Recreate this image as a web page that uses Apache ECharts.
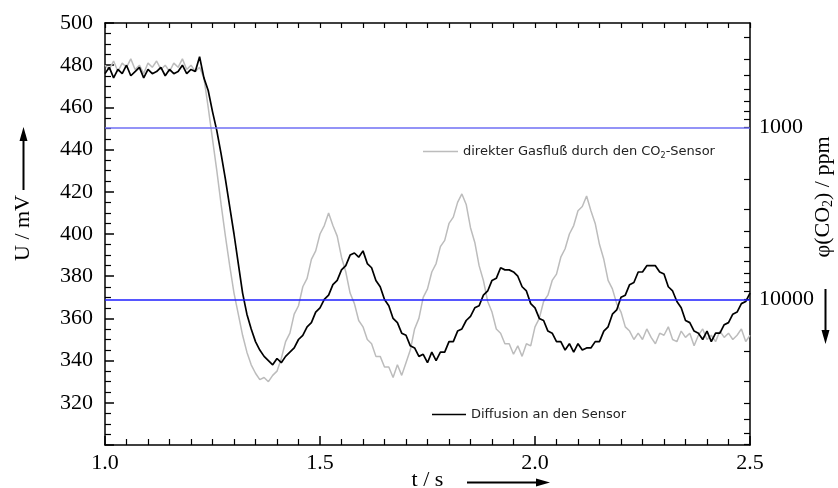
<!DOCTYPE html>
<html>
<head>
<meta charset="utf-8">
<script src="https://cdn.jsdelivr.net/npm/echarts@6/dist/echarts.min.js"></script>
<style>
  html, body { margin: 0; padding: 0; background: #fff; }
  #chart { width: 838px; height: 488px; }
</style>
</head>
<body>
<div id="chart"></div>
<script>
// sampling grid of the recorded traces (s)
const tStart = 1.0;
const tStep = 0.01;

// U / mV, gas flowing directly through the CO2 sensor (grey trace)
const gasFlowU = [
  480, 478, 482, 477, 481, 479, 483, 478, 480, 476, 481, 479, 482, 478, 480, 477, 481, 479, 483, 478, 480, 477, 479,
  474, 460, 445, 430, 414, 399, 385, 372, 362, 352, 344, 338, 334, 331, 332, 330, 333, 335,
  341, 349, 353, 362, 366, 375, 379, 388, 392, 400, 404, 410,
  404, 399, 389, 382, 372, 367, 359, 356, 350, 348, 342, 342, 337, 337, 332, 338, 333, 339,
  345, 355, 360, 370, 374, 382, 386, 394, 397, 405, 408, 415, 419,
  414, 403, 396, 385, 378, 368, 363, 355, 353, 348, 348, 343, 347, 342, 348, 347, 356,
  360, 368, 371, 378, 381, 389, 393, 400, 404, 411, 413, 418,
  411, 405, 395, 388, 378, 374, 367, 363, 356, 354, 350,
  353, 350, 355, 351, 348, 353, 352, 356, 350, 349, 354, 351, 353, 347, 352, 355, 350, 352, 349, 354, 351, 353, 350, 352, 355, 349, 352
];

// U / mV, diffusion to the sensor (black trace)
const diffusionU = [
  476, 479, 474, 478, 476, 480, 475, 477, 479, 474, 478, 476, 477, 479, 475, 478, 476, 477, 480, 476, 478, 477,
  484,
  474, 468, 458, 449, 438, 426, 413, 400, 386, 372, 362, 355, 349, 345, 342, 340, 338, 341, 339, 342, 344,
  346, 350, 352, 356, 358, 363, 365, 369, 371, 376, 378, 383, 385, 390, 391, 389, 392,
  386, 384, 378, 375, 369, 366, 360, 358, 353, 352, 347, 346, 342, 343, 339, 344, 340, 344,
  344, 349, 349, 354, 355, 359, 361, 365, 366, 371, 373, 378, 379, 384, 383, 383, 382,
  380, 375, 373, 367, 365, 360, 359, 354, 353, 349, 349, 345, 348, 344, 348, 345, 346, 346, 349,
  349, 354, 356, 362, 364, 370, 371, 376, 377, 382, 382, 385, 385, 385, 382, 381,
  375, 373, 368, 365, 359, 358, 354, 353, 350, 354, 349, 353, 353, 357, 358, 362, 363, 367, 368, 372
];

// right axis: phi(CO2) / ppm, logarithmic, tied to U
const U_AT_1000PPM = 450.5;
const MV_PER_DECADE = 81.5;
const ppmTicks = [300, 400, 500, 600, 700, 800, 900,
  1000, 2000, 3000, 4000, 5000, 6000, 7000, 8000, 9000,
  10000, 20000, 30000, 40000, 50000, 60000, 70000];
const ppmLabels = [1000, 10000];

const toU = ppm => U_AT_1000PPM - MV_PER_DECADE * Math.log10(ppm / 1000);
const toPpm = u => Math.round(1000 * Math.pow(10, (U_AT_1000PPM - u) / MV_PER_DECADE));
const pairs = arr => arr.map((u, i) => [+(tStart + i * tStep).toFixed(2), u]);

const serif = '"Liberation Serif", "Times New Roman", serif';
const sans = '"DejaVu Sans", sans-serif';
const black = '#000';

const chart = echarts.init(document.getElementById('chart'), null, { renderer: 'canvas' });

chart.setOption({
  animation: false,
  backgroundColor: '#fff',
  grid: { left: 105, right: 88, top: 23, bottom: 43, containLabel: false, outerBoundsMode: 'none' },
  legend: [
    {
      data: ['gas'],
      left: 418, top: 140,
      icon: 'rect', itemWidth: 35, itemHeight: 1.3, itemGap: 0,
      formatter: () => '{t|direkter Gasfluß durch den CO}{s|2}{t|-Sensor}',
      textStyle: {
        rich: {
          t: { fontFamily: sans, fontSize: 13, color: '#222' },
          s: { fontFamily: sans, fontSize: 8, color: '#222', padding: [8, 0, 0, 0] }
        }
      }
    },
    {
      data: ['diff'],
      left: 427, top: 403,
      icon: 'rect', itemWidth: 34, itemHeight: 1.3,
      formatter: () => 'Diffusion an den Sensor',
      textStyle: { fontFamily: sans, fontSize: 13, color: '#222' }
    }
  ],
  xAxis: [
    {
      type: 'value', position: 'bottom', min: 1, max: 2.5, interval: 0.5,
      name: 't / s', nameLocation: 'middle', nameGap: 24, nameMoveOverlap: false,
      nameTextStyle: { fontFamily: serif, fontSize: 22, color: black },
      axisLine: { show: true, onZero: false, lineStyle: { color: black, width: 1.5 } },
      axisTick: { show: true, inside: true, length: 9, lineStyle: { color: black, width: 1.5 } },
      minorTick: { show: true, splitNumber: 10, length: 6, lineStyle: { color: black, width: 1.2 } },
      axisLabel: { margin: 7, fontFamily: serif, fontSize: 22, color: black, formatter: v => v.toFixed(1) },
      splitLine: { show: false }
    },
    {
      type: 'value', position: 'top', min: 1, max: 2.5, interval: 0.5,
      axisLine: { show: true, onZero: false, lineStyle: { color: black, width: 1.5 } },
      axisTick: { show: true, inside: true, length: 5, lineStyle: { color: black, width: 1.2 } },
      minorTick: { show: true, splitNumber: 10, length: 5, lineStyle: { color: black, width: 1.2 } },
      axisLabel: { show: false },
      splitLine: { show: false }
    }
  ],
  yAxis: [
    {
      type: 'value', position: 'left', min: 300, max: 500, interval: 20,
      name: 'U / mV', nameLocation: 'middle', nameGap: 71, nameRotate: 90, nameMoveOverlap: false,
      nameTextStyle: { fontFamily: serif, fontSize: 22, color: black, padding: [0, 0, 0, 12] },
      axisLine: { show: true, onZero: false, lineStyle: { color: black, width: 1.5 } },
      axisTick: { show: true, inside: true, length: 9, lineStyle: { color: black, width: 1.5 } },
      minorTick: { show: true, splitNumber: 4, length: 6, lineStyle: { color: black, width: 1.2 } },
      axisLabel: { margin: 12, showMinLabel: false, fontFamily: serif, fontSize: 22, color: black },
      splitLine: { show: false }
    },
    {
      type: 'value', position: 'right', min: 300, max: 500,
      name: '{n|φ(CO}{s|2}{n|) / ppm}', nameLocation: 'middle', nameGap: 61, nameRotate: 90,
      nameMoveOverlap: false,
      nameTextStyle: {
        padding: [0, 0, 0, 74],
        rich: {
          n: { fontFamily: serif, fontSize: 22, color: black },
          s: { fontFamily: serif, fontSize: 14, color: black, padding: [10, 0, 0, 0] }
        }
      },
      axisLine: { show: true, onZero: false, lineStyle: { color: black, width: 1.5 } },
      axisTick: {
        show: true, inside: true, length: 6, lineStyle: { color: black, width: 1.2 },
        customValues: ppmTicks.map(toU).filter(u => u >= 300 && u <= 500)
      },
      axisLabel: {
        margin: 9, fontFamily: serif, fontSize: 22, color: black,
        customValues: ppmLabels.map(toU),
        formatter: v => String(toPpm(v))
      },
      splitLine: { show: false }
    }
  ],
  series: [
    {
      name: 'levels', type: 'line', data: [], silent: true, z: 1,
      markLine: {
        silent: true, symbol: 'none', label: { show: false },
        data: ppmLabels.map((p, i) => ({
          yAxis: toU(p),
          lineStyle: i === 0
            ? { color: '#6f6ff5', width: 1.6, type: 'solid', opacity: 1 }
            : { color: '#1e1eff', width: 1.5, type: 'solid', opacity: 1 }
        }))
      }
    },
    {
      name: 'gas', type: 'line', data: pairs(gasFlowU), showSymbol: false, symbol: 'none', z: 2,
      lineStyle: { color: '#bcbcbc', width: 1.5 }, itemStyle: { color: '#bcbcbc' }
    },
    {
      name: 'diff', type: 'line', data: pairs(diffusionU), showSymbol: false, symbol: 'none', z: 3,
      lineStyle: { color: black, width: 1.7 }, itemStyle: { color: black }
    }
  ],
  graphic: [
    // arrow next to U / mV
    { type: 'line', shape: { x1: 23.5, y1: 190, x2: 23.5, y2: 138 }, style: { stroke: black, lineWidth: 2 } },
    { type: 'polygon', shape: { points: [[23.5, 127], [19.5, 141], [27.5, 141]] }, style: { fill: black } },
    // arrow next to t / s
    { type: 'line', shape: { x1: 467, y1: 482.5, x2: 538, y2: 482.5 }, style: { stroke: black, lineWidth: 2 } },
    { type: 'polygon', shape: { points: [[550, 482.5], [536, 478.5], [536, 486.5]] }, style: { fill: black } },
    // arrow below 10000 on the ppm axis
    { type: 'line', shape: { x1: 825.5, y1: 289, x2: 825.5, y2: 332 }, style: { stroke: black, lineWidth: 2 } },
    { type: 'polygon', shape: { points: [[825.5, 344], [821.5, 330], [829.5, 330]] }, style: { fill: black } }
  ]
});
</script>
</body>
</html>
